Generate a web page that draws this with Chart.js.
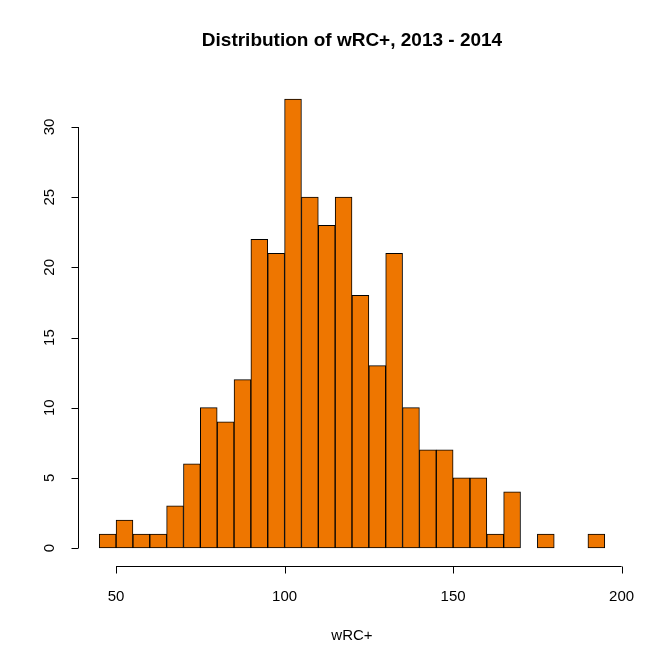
<!DOCTYPE html>
<html>
<head>
<meta charset="utf-8">
<script src="https://cdn.jsdelivr.net/npm/chart.js@4/dist/chart.umd.min.js"></script>
<style>
  html, body { margin: 0; padding: 0; background: #fff; }
  #wrap { width: 666px; height: 665px; }
</style>
</head>
<body>
<div id="wrap"><canvas id="hist" width="666" height="665"></canvas></div>
<script>
// histogram bins (left edges), width 5
var binStarts = [45, 50, 55, 60, 65, 70, 75, 80, 85, 90, 95, 100, 105, 110, 115,
                 120, 125, 130, 135, 140, 145, 150, 155, 160, 165, 170, 175, 180, 185, 190];
var binWidth = 5;
var counts = [1, 2, 1, 1, 3, 6, 10, 9, 12, 22, 21, 32, 25, 23, 25,
              18, 13, 21, 10, 7, 7, 5, 5, 1, 4, 0, 1, 0, 0, 1];
var xTicks = [50, 100, 150, 200];
var yTicks = [0, 5, 10, 15, 20, 25, 30];
var titleText = 'Distribution of wRC+, 2013 - 2014';
var xLabel = 'wRC+';

var points = binStarts.map(function (b, i) {
    return { x: b + binWidth / 2, y: counts[i] };
});

// R-style axes, ticks, labels and title
var baseAxes = {
    id: 'baseAxes',
    afterDraw: function (chart) {
        var ctx = chart.ctx;
        var area = chart.chartArea;
        var xs = chart.scales.x;
        var ys = chart.scales.y;
        var tick = 7;
        ctx.save();
        ctx.strokeStyle = '#000';
        ctx.lineWidth = 1;
        ctx.fillStyle = '#000';

        // x axis
        var yb = Math.round(area.bottom) + 0.5;
        ctx.beginPath();
        ctx.moveTo(xs.getPixelForValue(xTicks[0]), yb);
        ctx.lineTo(xs.getPixelForValue(xTicks[xTicks.length - 1]), yb);
        xTicks.forEach(function (t) {
            var px = Math.round(xs.getPixelForValue(t)) + 0.5;
            ctx.moveTo(px, yb);
            ctx.lineTo(px, yb + tick);
        });
        ctx.stroke();
        ctx.font = '15px "Liberation Sans", Arial, sans-serif';
        ctx.textAlign = 'center';
        ctx.textBaseline = 'middle';
        xTicks.forEach(function (t) {
            ctx.fillText(String(t), xs.getPixelForValue(t), 597);
        });

        // y axis
        var xl = Math.round(area.left) - 0.5;
        ctx.beginPath();
        ctx.moveTo(xl, ys.getPixelForValue(yTicks[0]));
        ctx.lineTo(xl, ys.getPixelForValue(yTicks[yTicks.length - 1]));
        yTicks.forEach(function (t) {
            var py = Math.round(ys.getPixelForValue(t)) + 0.5;
            ctx.moveTo(xl, py);
            ctx.lineTo(xl - tick, py);
        });
        ctx.stroke();
        yTicks.forEach(function (t) {
            ctx.save();
            ctx.translate(50, ys.getPixelForValue(t));
            ctx.rotate(-Math.PI / 2);
            ctx.fillText(String(t), 0, 0);
            ctx.restore();
        });

        // axis title
        var cx = (area.left + area.right) / 2;
        ctx.fillText(xLabel, cx, 636);

        // main title
        ctx.font = 'bold 19px "Liberation Sans", Arial, sans-serif';
        ctx.fillText(titleText, cx, 41);
        ctx.restore();
    }
};

new Chart(document.getElementById('hist'), {
    type: 'bar',
    data: {
        datasets: [{
            data: points,
            backgroundColor: '#EE7600',
            borderColor: '#000000',
            borderWidth: 1,
            borderSkipped: false,
            barPercentage: 1,
            categoryPercentage: 1
        }]
    },
    options: {
        responsive: false,
        animation: false,
        layout: { padding: { left: 79, right: 41, top: 81, bottom: 99 } },
        plugins: {
            legend: { display: false },
            title: { display: false },
            tooltip: { enabled: false }
        },
        scales: {
            x: { type: 'linear', min: 39, max: 201, display: false, offset: false },
            y: { min: -1.28, max: 33.28, display: false }
        }
    },
    plugins: [baseAxes]
});
</script>
</body>
</html>
